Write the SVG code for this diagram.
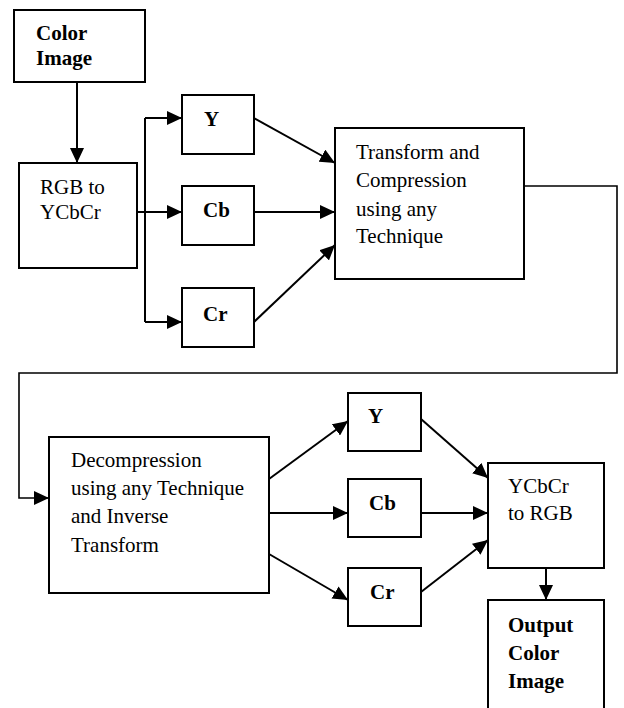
<svg xmlns="http://www.w3.org/2000/svg" width="624" height="708" viewBox="0 0 624 708">
<style>
.box{fill:#fff;stroke:#000;stroke-width:2}
text{font-family:'Liberation Serif',Tinos,'Times New Roman','DejaVu Serif',serif;font-size:21px;fill:#000}
.b{font-weight:bold}
.c{fill:none;stroke:#000;stroke-width:2}
.loop{fill:none;stroke:#000;stroke-width:1.6}
</style>
<defs>
<marker id="ah" markerUnits="userSpaceOnUse" markerWidth="16" markerHeight="14" refX="15" refY="7" orient="auto">
<path d="M0,0 L15,7 L0,14 z" fill="#000"/>
</marker>
</defs>
<rect width="624" height="708" fill="#fff"/>
<g id="connectors">
<path class="c" d="M77,82 L77,163" marker-end="url(#ah)"/>
<path class="c" d="M145,118 L145,322"/>
<path class="c" d="M145,118 L182,118" marker-end="url(#ah)"/>
<path class="c" d="M137,212 L182,212" marker-end="url(#ah)"/>
<path class="c" d="M145,322 L182,322" marker-end="url(#ah)"/>
<path class="c" d="M254,118 L335,163" marker-end="url(#ah)"/>
<path class="c" d="M254,212 L335,212" marker-end="url(#ah)"/>
<path class="c" d="M254,322 L335,245" marker-end="url(#ah)"/>
<path class="loop" d="M524,186 L617,186 L617,373 L19,373 L19,498 L49,498" marker-end="url(#ah)"/>
<path class="c" d="M269,479 L348,421" marker-end="url(#ah)"/>
<path class="c" d="M269,513 L348,513" marker-end="url(#ah)"/>
<path class="c" d="M269,554 L348,600" marker-end="url(#ah)"/>
<path class="c" d="M421,419 L488,478" marker-end="url(#ah)"/>
<path class="c" d="M421,513 L488,513" marker-end="url(#ah)"/>
<path class="c" d="M421,592 L488,540" marker-end="url(#ah)"/>
<path class="c" d="M546,568 L546,600" marker-end="url(#ah)"/>
</g>
<g id="color-image">
<rect class="box" x="14" y="10" width="131" height="72"/>
<text class="b" x="36" y="40">Color</text>
<text class="b" x="36" y="65">Image</text>
</g>
<g id="rgb-to-ycbcr">
<rect class="box" x="19" y="163" width="118" height="105"/>
<text x="40" y="194">RGB to</text>
<text x="40" y="219">YCbCr</text>
</g>
<g id="y1">
<rect class="box" x="182" y="95" width="72" height="59"/>
<text class="b" x="204" y="126">Y</text>
</g>
<g id="cb1">
<rect class="box" x="182" y="186" width="72" height="59"/>
<text class="b" x="203" y="217">Cb</text>
</g>
<g id="cr1">
<rect class="box" x="182" y="288" width="72" height="59"/>
<text class="b" x="203" y="321">Cr</text>
</g>
<g id="transform">
<rect class="box" x="335" y="128" width="189" height="151"/>
<text x="356" y="159">Transform and</text>
<text x="356" y="187">Compression</text>
<text x="356" y="216">using any</text>
<text x="356" y="243">Technique</text>
</g>
<g id="decompression">
<rect class="box" x="49" y="437" width="220" height="156"/>
<text x="71" y="467">Decompression</text>
<text x="71" y="495">using any Technique</text>
<text x="71" y="523">and Inverse</text>
<text x="71" y="552">Transform</text>
</g>
<g id="y2">
<rect class="box" x="348" y="393" width="73" height="58"/>
<text class="b" x="368" y="423">Y</text>
</g>
<g id="cb2">
<rect class="box" x="348" y="479" width="73" height="58"/>
<text class="b" x="369" y="510">Cb</text>
</g>
<g id="cr2">
<rect class="box" x="348" y="568" width="73" height="58"/>
<text class="b" x="370" y="599">Cr</text>
</g>
<g id="ycbcr-to-rgb">
<rect class="box" x="488" y="463" width="116" height="105"/>
<text x="508" y="493">YCbCr</text>
<text x="508" y="520">to RGB</text>
</g>
<g id="output">
<rect class="box" x="488" y="600" width="116" height="120"/>
<text class="b" x="508" y="632">Output</text>
<text class="b" x="508" y="660">Color</text>
<text class="b" x="508" y="688">Image</text>
</g>
</svg>
